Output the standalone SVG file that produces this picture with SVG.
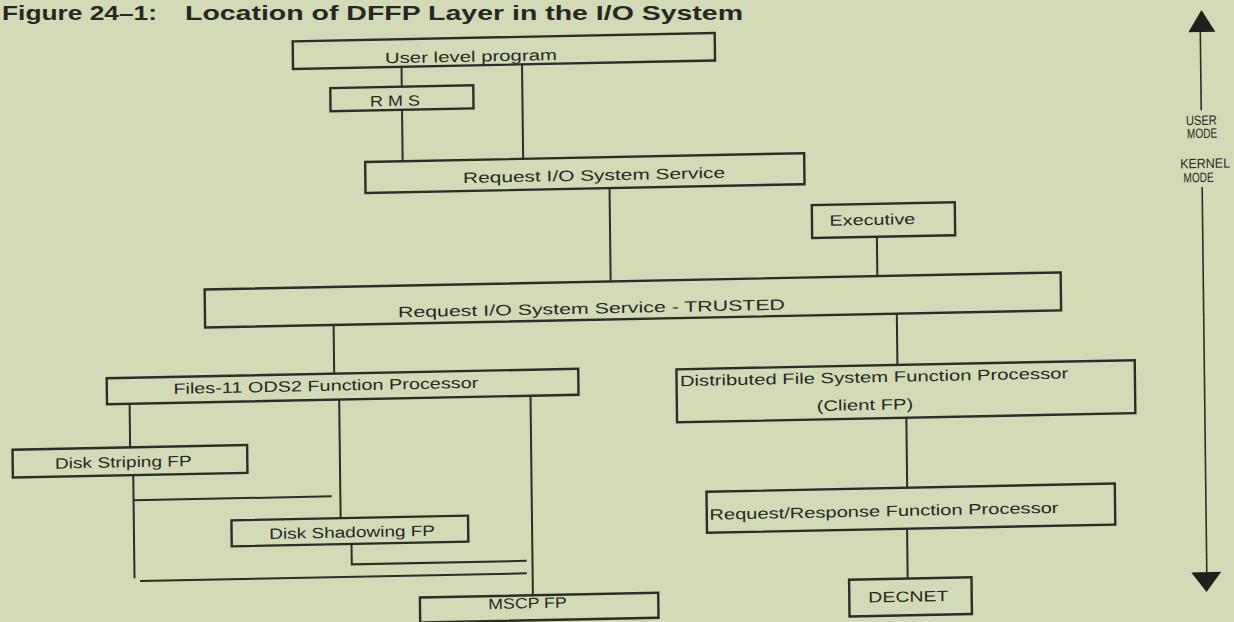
<svg xmlns="http://www.w3.org/2000/svg" width="1234" height="622" viewBox="0 0 1234 622">
<style>
.box{fill:none;stroke:#2c2d27;stroke-width:2.4}
.ln{fill:none;stroke:#2c2d27;stroke-width:2}
.ax{fill:none;stroke:#2c2d27;stroke-width:1.6}
.head{fill:#1f201c}
text{font-family:"Liberation Sans",Arial,Helvetica,sans-serif;fill:#272822;font-size:15px}
.title{font-weight:bold;font-size:21px}
.md{font-size:13.5px}
</style>
<rect width="1234" height="622" fill="#d3dbb6"/>
<g id="title">
<text class="title" x="2" y="19.5" textLength="155" lengthAdjust="spacingAndGlyphs">Figure 24–1:</text>
<text class="title" x="185" y="19.5" textLength="558" lengthAdjust="spacingAndGlyphs">Location of DFFP Layer in the I/O System</text>
</g>
<g transform="matrix(1 -0.02 0.012 1 -3.73 12.34)">
<g id="connectors">
<line class="ln" x1="404.5" y1="62.5" x2="404.5" y2="82.5"/>
<line class="ln" x1="404.5" y1="105.5" x2="404.5" y2="157"/>
<line class="ln" x1="525" y1="62.5" x2="525" y2="157"/>
<line class="ln" x1="611" y1="188" x2="611" y2="281.3"/>
<line class="ln" x1="877.7" y1="242" x2="877.7" y2="281.3"/>
<line class="ln" x1="333.5" y1="319.3" x2="333.5" y2="368"/>
<line class="ln" x1="896.7" y1="319.3" x2="896.7" y2="370.5"/>
<line class="ln" x1="128.6" y1="394" x2="128.6" y2="437.6"/>
<line class="ln" x1="338.2" y1="394" x2="338.2" y2="512.6"/>
<line class="ln" x1="529.5" y1="394" x2="529.5" y2="593.5"/>
<line class="ln" x1="131.4" y1="465.4" x2="131.4" y2="568.6"/>
<line class="ln" x1="131.4" y1="490.6" x2="329.5" y2="490.6"/>
<polyline class="ln" points="348.8,538.6 348.8,559 523.7,559"/>
<line class="ln" x1="137" y1="571.5" x2="523.7" y2="571.5"/>
<line class="ln" x1="905" y1="423.5" x2="905" y2="493.5"/>
<line class="ln" x1="904.4" y1="534.5" x2="904.4" y2="584.3"/>
</g>
<g id="user-level-program">
<rect class="box" x="296" y="35" width="422" height="27.5"/>
<text x="388" y="58.8" textLength="172" lengthAdjust="spacingAndGlyphs">User level program</text>
</g>
<g id="rms">
<rect class="box" x="333" y="82.5" width="143" height="23"/>
<text x="372.6" y="101.6" textLength="50" lengthAdjust="spacingAndGlyphs">R M S</text>
</g>
<g id="request-io">
<rect class="box" x="367" y="157" width="439" height="31"/>
<text x="464.7" y="180" textLength="262" lengthAdjust="spacingAndGlyphs">Request I/O System Service</text>
</g>
<g id="executive">
<rect class="box" x="813" y="209" width="143" height="33"/>
<text x="830.6" y="230.1" textLength="85.7" lengthAdjust="spacingAndGlyphs">Executive</text>
</g>
<g id="request-io-trusted">
<rect class="box" x="205" y="281.3" width="856" height="38"/>
<text x="398" y="313" textLength="387" lengthAdjust="spacingAndGlyphs">Request I/O System Service - TRUSTED</text>
</g>
<g id="files11">
<rect class="box" x="106" y="368" width="471.5" height="26"/>
<text x="172.5" y="385" font-size="16" textLength="305" lengthAdjust="spacingAndGlyphs">Files-11 ODS2 Function Processor</text>
</g>
<g id="dffp">
<rect class="box" x="675.7" y="370.5" width="458.3" height="53"/>
<text x="679" y="387.4" textLength="388.4" lengthAdjust="spacingAndGlyphs">Distributed File System Function Processor</text>
<text x="815.5" y="415" textLength="96.6" lengthAdjust="spacingAndGlyphs">(Client FP)</text>
</g>
<g id="disk-striping">
<rect class="box" x="11" y="437.6" width="234.6" height="27.8"/>
<text x="53.3" y="457.4" font-size="16" textLength="136.7" lengthAdjust="spacingAndGlyphs">Disk Striping FP</text>
</g>
<g id="disk-shadowing">
<rect class="box" x="229" y="512.6" width="236.6" height="26"/>
<text x="266.7" y="532" font-size="16" textLength="165.7" lengthAdjust="spacingAndGlyphs">Disk Shadowing FP</text>
</g>
<g id="request-response">
<rect class="box" x="704.3" y="493.5" width="408.3" height="41"/>
<text x="707" y="521.6" textLength="349" lengthAdjust="spacingAndGlyphs">Request/Response Function Processor</text>
</g>
<g id="mscp">
<rect class="box" x="416.5" y="593.5" width="238.3" height="25"/>
<text x="484.8" y="606.5" textLength="78.4" lengthAdjust="spacingAndGlyphs">MSCP FP</text>
</g>
<g id="decnet">
<rect class="box" x="845.8" y="584.3" width="122.4" height="36.7"/>
<text x="864.8" y="607.5" font-size="16" textLength="80" lengthAdjust="spacingAndGlyphs">DECNET</text>
</g>
<g id="mode-axis">
<line class="ax" x1="1203.5" y1="43" x2="1203.5" y2="122"/>
<line class="ax" x1="1203.5" y1="198.7" x2="1203.5" y2="584"/>
<polygon class="head" points="1205,21.7 1191.5,43.7 1218.5,43.7"/>
<polygon class="head" points="1188,583.8 1218,583.8 1203,603.8"/>
<text class="md" x="1188" y="136.7" textLength="31" lengthAdjust="spacingAndGlyphs">USER</text>
<text class="md" x="1189" y="149.7" textLength="30" lengthAdjust="spacingAndGlyphs">MODE</text>
<text class="md" x="1181.7" y="179.8" textLength="50" lengthAdjust="spacingAndGlyphs">KERNEL</text>
<text class="md" x="1185" y="193.8" textLength="30" lengthAdjust="spacingAndGlyphs">MODE</text>
</g>
</g>
</svg>
